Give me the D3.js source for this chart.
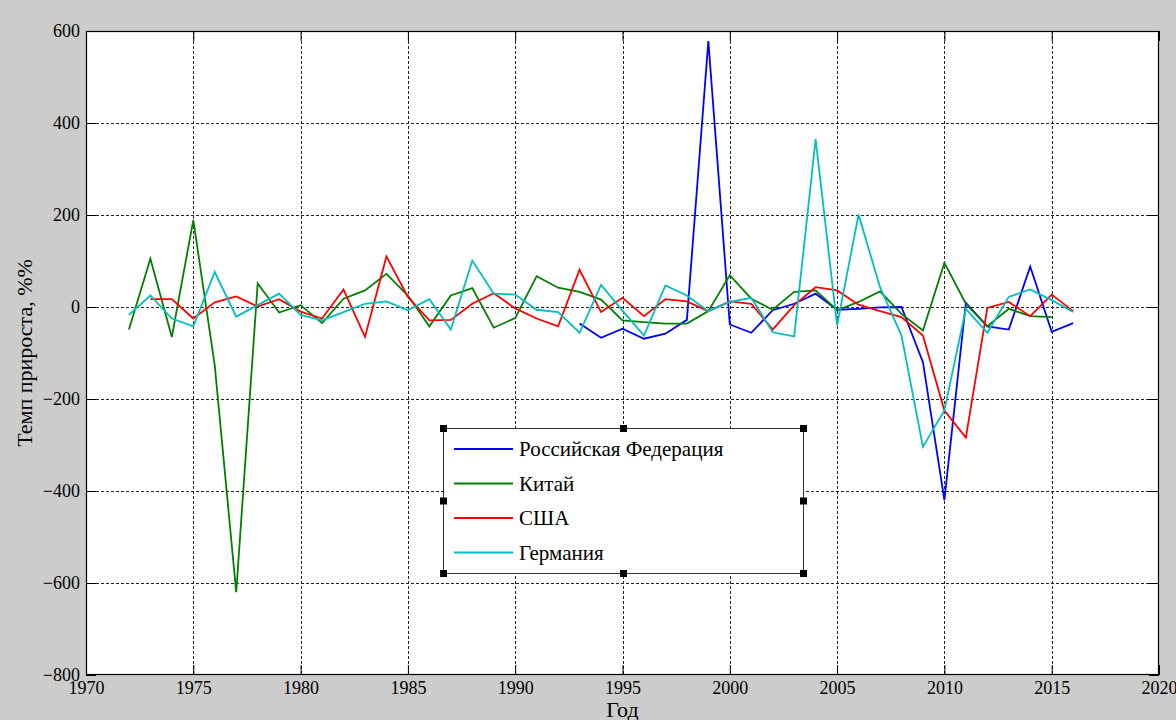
<!DOCTYPE html>
<html>
<head>
<meta charset="utf-8">
<script src="https://cdn.jsdelivr.net/npm/d3@7"></script>
<style>
body { margin: 0; background: #cccccc; }
text { font-family: "Liberation Serif", "Times New Roman", serif; fill: #000; }
</style>
</head>
<body>
<svg id="chart" width="1176" height="720"></svg>
<script>
// growth rate, %% per year
var russiaStart = 1993;
var russia = [-36, -67, -47, -69, -58, -28, 578, -38, -56, -7, 7, 29, -6, -4, -1, 0,
    -120, -420, 9, -42, -49, 88, -54, -35];

var chinaStart = 1972;
var china = [-49, 105, -65, 189, -127, -620, 51, -12, 4, -35, 18, 36, 72, 25, -42, 25,
    41, -45, -24, 67, 42, 33, 16, -29, -33, -36, -36, -9, 69, 18, -6, 33, 36, -7, 11,
    34, -15, -51, 96, 7, -42, -4, -20, -22];

var usaStart = 1973;
var usa = [17, 17, -25, 10, 23, 1, 17, -10, -25, 38, -65, 110, 22, -29, -28, 7, 30, -3,
    -25, -42, 81, -11, 20, -20, 17, 12, -9, 12, 7, -49, 4, 43, 36, 5, -9, -22, -62,
    -225, -284, -2, 11, -20, 27, -9];

var germanyStart = 1972;
var germany = [-17, 25, -25, -42, 76, -21, 4, 29, -17, -29, -11, 7, 12, -7, 17, -49, 101,
    29, 27, -6, -11, -56, 48, -8, -62, 47, 25, -9, 11, 20, -55, -64, 365, -40, 201, 43,
    -62, -304, -225, -4, -56, 22, 38, 15, -11];

var seriesNames = ["Российская Федерация", "Китай", "США", "Германия"];
var seriesColors = ["#0000ff", "#008000", "#ff0000", "#00bfbf"];

var xTicks = [1970, 1975, 1980, 1985, 1990, 1995, 2000, 2005, 2010, 2015, 2020];
var yTicks = [-800, -600, -400, -200, 0, 200, 400, 600];

function drawChart() {
    var svg = d3.select("#chart");
    var mLeft = 86, mRight = 1159, mTop = 31, mBottom = 675;

    var x = d3.scaleLinear().domain([1970, 2020]).range([mLeft, mRight]);
    var y = d3.scaleLinear().domain([-800, 600]).range([mBottom, mTop]);

    // axes background
    svg.append("rect")
        .attr("x", mLeft).attr("y", mTop)
        .attr("width", mRight - mLeft).attr("height", mBottom - mTop)
        .attr("fill", "#fff");

    // grid
    var grid = svg.append("g").attr("stroke", "#222").attr("stroke-dasharray", "3,2").attr("stroke-width", 1);
    grid.selectAll(".gx").data(xTicks.slice(1, -1)).enter().append("line")
        .attr("x1", function(d) { return Math.round(x(d)) + 0.5; })
        .attr("x2", function(d) { return Math.round(x(d)) + 0.5; })
        .attr("y1", mTop).attr("y2", mBottom);
    grid.selectAll(".gy").data(yTicks.slice(1, -1)).enter().append("line")
        .attr("y1", function(d) { return Math.round(y(d)) + 0.5; })
        .attr("y2", function(d) { return Math.round(y(d)) + 0.5; })
        .attr("x1", mLeft).attr("x2", mRight);

    // axes with inward ticks on all sides
    var fmt = d3.format("d");
    var gx = svg.append("g").attr("transform", "translate(0," + mBottom + ")")
        .call(d3.axisBottom(x).tickValues(xTicks).tickFormat(fmt).tickSizeInner(-10).tickSizeOuter(0).tickPadding(6));
    var gx2 = svg.append("g").attr("transform", "translate(0," + mTop + ")")
        .call(d3.axisTop(x).tickValues(xTicks).tickFormat("").tickSizeInner(-10).tickSizeOuter(0));
    var gy = svg.append("g").attr("transform", "translate(" + mLeft + ",0)")
        .call(d3.axisLeft(y).tickValues(yTicks).tickFormat(fmt).tickSizeInner(-10).tickSizeOuter(0).tickPadding(6));
    var gy2 = svg.append("g").attr("transform", "translate(" + mRight + ",0)")
        .call(d3.axisRight(y).tickValues(yTicks).tickFormat("").tickSizeInner(-10).tickSizeOuter(0));
    [gx, gx2, gy, gy2].forEach(function(g) {
        g.select(".domain").remove();
        g.selectAll("line").attr("stroke", "#000");
        g.selectAll("text").attr("font-size", 18)
            .style("font-family", "'Liberation Serif', 'Times New Roman', serif");
    });

    // lines
    var line = d3.line()
        .x(function(d) { return x(d.year); })
        .y(function(d) { return y(d.v); });

    function toPoints(start, vals) {
        return vals.map(function(v, i) { return {year: start + i, v: v}; });
    }
    var allSeries = [
        toPoints(russiaStart, russia),
        toPoints(chinaStart, china),
        toPoints(usaStart, usa),
        toPoints(germanyStart, germany)
    ];

    svg.append("g").selectAll("path")
        .data(allSeries).enter().append("path")
        .attr("d", line)
        .attr("fill", "none")
        .attr("stroke", function(d, i) { return seriesColors[i]; })
        .attr("stroke-width", 1.8)
        .attr("stroke-linejoin", "miter");

    // axes box
    svg.append("rect")
        .attr("x", mLeft + 0.5).attr("y", mTop + 0.5)
        .attr("width", mRight - mLeft - 1).attr("height", mBottom - mTop - 1)
        .attr("fill", "none").attr("stroke", "#000").attr("stroke-width", 1.2);

    // axis titles
    svg.append("text")
        .attr("x", (mLeft + mRight) / 2).attr("y", 717)
        .attr("text-anchor", "middle").attr("font-size", 22)
        .text("Год");
    svg.append("text")
        .attr("transform", "translate(32," + ((mTop + mBottom) / 2) + ") rotate(-90)")
        .attr("text-anchor", "middle").attr("font-size", 22)
        .text("Темп прироста, %%");

    // legend
    var lg = {x: 443, y: 428, w: 360, h: 145};
    var legend = svg.append("g");
    legend.append("rect")
        .attr("x", lg.x + 0.5).attr("y", lg.y + 0.5)
        .attr("width", lg.w).attr("height", lg.h)
        .attr("fill", "#fff").attr("stroke", "#333").attr("stroke-width", 1);
    var rows = legend.selectAll(".row").data(seriesNames).enter().append("g")
        .attr("transform", function(d, i) { return "translate(" + lg.x + "," + (lg.y + 21 + i * 34.5) + ")"; });
    rows.append("line")
        .attr("x1", 11).attr("x2", 70).attr("y1", 0).attr("y2", 0)
        .attr("stroke", function(d, i) { return seriesColors[i]; })
        .attr("stroke-width", 2);
    rows.append("text")
        .attr("x", 76).attr("y", 7)
        .attr("font-size", 21)
        .text(function(d) { return d; });

    // selection handles
    var handles = [[0, 0], [0.5, 0], [1, 0], [0, 0.5], [1, 0.5], [0, 1], [0.5, 1], [1, 1]];
    legend.selectAll(".handle").data(handles).enter().append("rect")
        .attr("x", function(d) { return lg.x + 0.5 + d[0] * lg.w - 3.5; })
        .attr("y", function(d) { return lg.y + 0.5 + d[1] * lg.h - 3.5; })
        .attr("width", 7).attr("height", 7)
        .attr("fill", "#000");
}

drawChart();
</script>
</body>
</html>
